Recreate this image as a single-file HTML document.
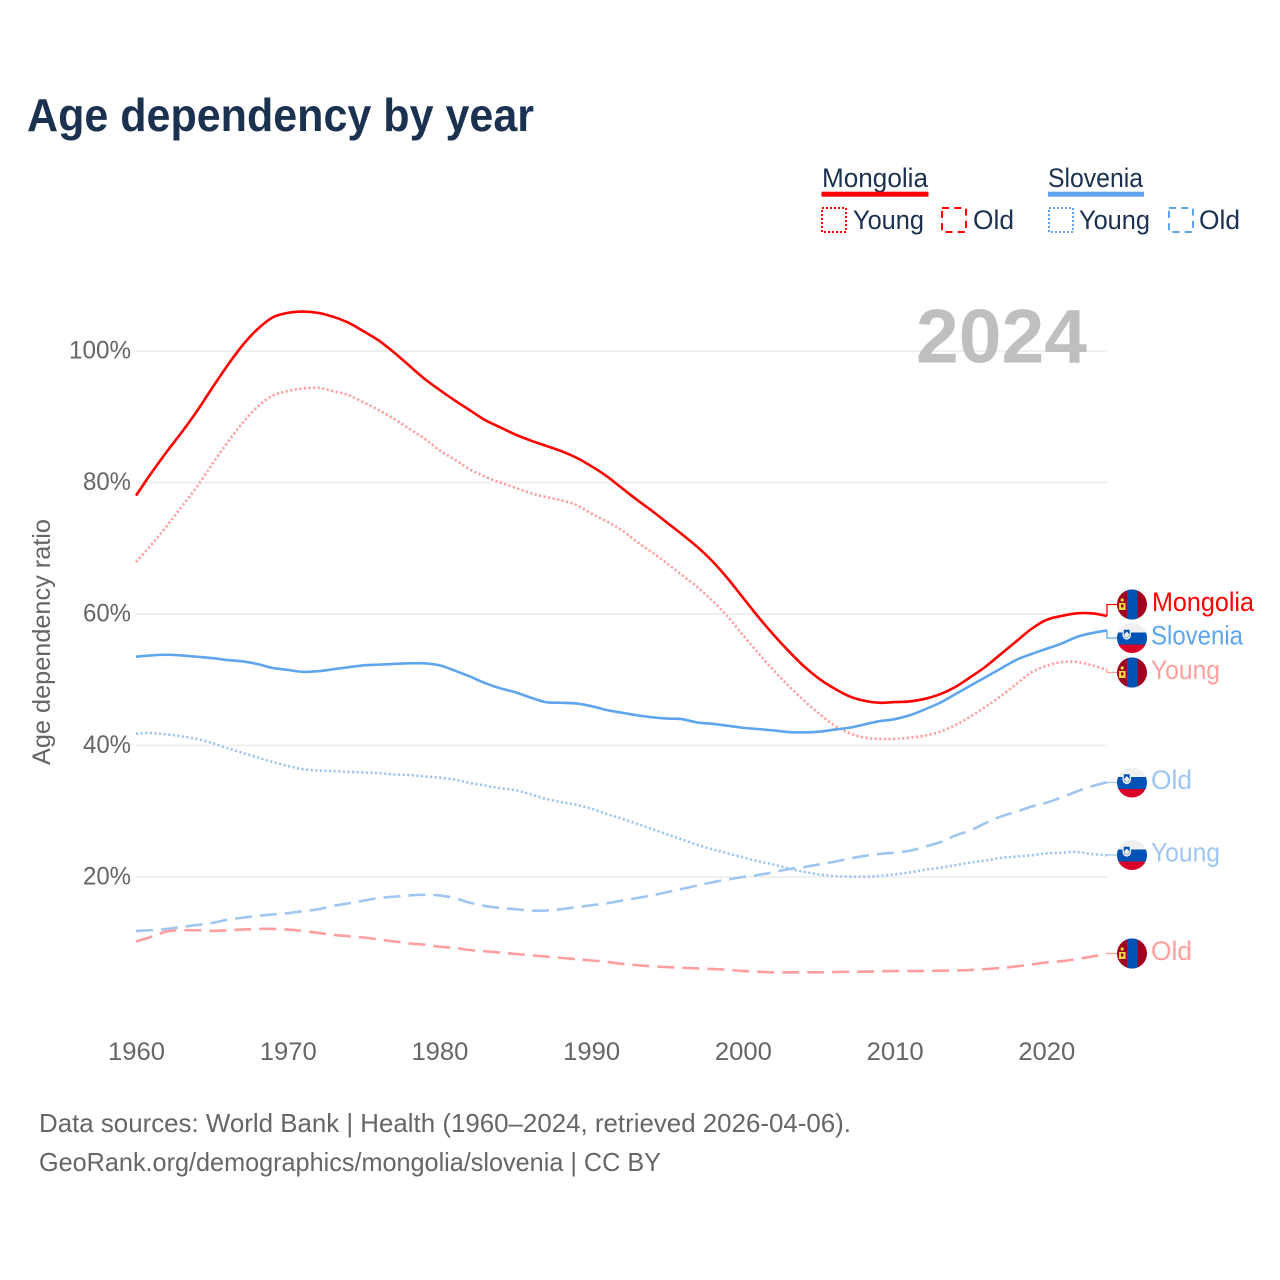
<!DOCTYPE html>
<html lang="en">
<head>
<meta charset="utf-8">
<title>Age dependency by year</title>
<style>
  html, body { margin: 0; padding: 0; background: #fff; }
  svg { display: block; font-family: "Liberation Sans", sans-serif; }
</style>
</head>
<body>
<svg id="chart" xmlns="http://www.w3.org/2000/svg" width="1280" height="1280" viewBox="0 0 1280 1280">
  <rect width="1280" height="1280" fill="#fff"/>
  <defs><clipPath id="flag-clip"><circle cx="0" cy="0" r="15"/></clipPath></defs>

  <text x="27" y="131" font-size="46" font-weight="700" fill="#1a3150" textLength="507" lengthAdjust="spacingAndGlyphs">Age dependency by year</text>

  <g>
    <text x="822" y="187" font-size="27" fill="#1a3150" textLength="106" lengthAdjust="spacingAndGlyphs">Mongolia</text>
    <rect x="821.5" y="191.7" width="107" height="5" fill="#ff0000"/>
    <rect x="822" y="208" width="24" height="24" fill="none" stroke="#ff0000" stroke-width="2" stroke-dasharray="2 2"/>
    <text x="853" y="229" font-size="27" fill="#1a3150" textLength="71" lengthAdjust="spacingAndGlyphs">Young</text>
    <rect x="942" y="208" width="24" height="24" fill="none" stroke="#ff0000" stroke-width="2" stroke-dasharray="7 5.3"/>
    <text x="973" y="229" font-size="27" fill="#1a3150" textLength="41" lengthAdjust="spacingAndGlyphs">Old</text>

    <text x="1048" y="187" font-size="27" fill="#1a3150" textLength="95" lengthAdjust="spacingAndGlyphs">Slovenia</text>
    <rect x="1048" y="191.7" width="96" height="5" fill="#5fa5ee"/>
    <rect x="1049" y="208" width="24" height="24" fill="none" stroke="#5fa5ee" stroke-width="2" stroke-dasharray="2 2"/>
    <text x="1079" y="229" font-size="27" fill="#1a3150" textLength="71" lengthAdjust="spacingAndGlyphs">Young</text>
    <rect x="1169" y="208" width="24" height="24" fill="none" stroke="#5fa5ee" stroke-width="2" stroke-dasharray="7 5.3"/>
    <text x="1199" y="229" font-size="27" fill="#1a3150" textLength="41" lengthAdjust="spacingAndGlyphs">Old</text>
  </g>

  <g id="grid-layer"></g>
  <text x="916" y="362.5" font-size="76" font-weight="700" fill="#bfbfbf" textLength="171" lengthAdjust="spacingAndGlyphs">2024</text>
  <g id="axis-layer"></g>
  <text transform="translate(50,642) rotate(-90)" text-anchor="middle" font-size="25" fill="#666" textLength="246" lengthAdjust="spacingAndGlyphs">Age dependency ratio</text>
  <g id="series-layer"></g>
  <g id="label-layer"></g>

  <text x="39" y="1132" font-size="26" fill="#666" textLength="812" lengthAdjust="spacingAndGlyphs">Data sources: World Bank | Health (1960–2024, retrieved 2026-04-06).</text>
  <text x="39" y="1171" font-size="26" fill="#666" textLength="622" lengthAdjust="spacingAndGlyphs">GeoRank.org/demographics/mongolia/slovenia | CC BY</text>
</svg>

<script>
const years = [1960,1961,1962,1963,1964,1965,1966,1967,1968,1969,1970,1971,1972,1973,1974,1975,1976,1977,1978,1979,1980,1981,1982,1983,1984,1985,1986,1987,1988,1989,1990,1991,1992,1993,1994,1995,1996,1997,1998,1999,2000,2001,2002,2003,2004,2005,2006,2007,2008,2009,2010,2011,2012,2013,2014,2015,2016,2017,2018,2019,2020,2021,2022,2023,2024];
const xTicks = [1960,1970,1980,1990,2000,2010,2020];
const yTicks = [20,40,60,80,100];

const mongoliaTotal = [78.0,81.4,84.6,87.6,90.8,94.3,97.7,100.8,103.3,105.1,105.8,106.0,105.8,105.2,104.3,103.0,101.6,99.8,97.8,95.8,94.1,92.5,91.0,89.5,88.4,87.3,86.4,85.6,84.8,83.8,82.5,81.0,79.2,77.4,75.7,73.9,72.1,70.2,68.0,65.4,62.5,59.6,56.9,54.4,52.1,50.2,48.7,47.5,46.8,46.5,46.6,46.7,47.1,47.8,48.9,50.4,52.0,53.9,55.8,57.7,59.1,59.7,60.1,60.1,59.7];
const mongoliaYoung = [67.9,70.5,73.3,76.3,79.3,82.7,86.0,89.0,91.5,93.2,93.9,94.3,94.4,93.9,93.3,92.2,91.0,89.7,88.2,86.7,84.9,83.5,82.0,80.9,80.0,79.2,78.4,77.8,77.3,76.6,75.3,74.1,72.8,71.0,69.4,67.7,65.9,64.1,62.0,59.6,56.8,54.1,51.5,49.1,46.9,44.9,43.1,41.9,41.2,41.0,41.0,41.2,41.5,42.1,43.1,44.4,45.9,47.5,49.3,51.1,52.1,52.7,52.7,52.2,51.5];
const mongoliaOld = [10.2,10.9,11.7,11.9,11.9,11.8,11.9,12.0,12.1,12.1,12.0,11.8,11.5,11.2,11.0,10.8,10.5,10.2,9.9,9.7,9.4,9.2,8.9,8.7,8.5,8.3,8.1,7.9,7.7,7.5,7.3,7.1,6.8,6.6,6.4,6.3,6.2,6.1,6.0,5.9,5.7,5.6,5.5,5.5,5.5,5.5,5.55,5.6,5.6,5.65,5.7,5.7,5.7,5.75,5.8,5.85,6.0,6.15,6.4,6.7,7.0,7.2,7.5,7.9,8.3];
const sloveniaTotal = [53.5,53.7,53.8,53.7,53.5,53.3,53.0,52.8,52.4,51.8,51.5,51.2,51.3,51.6,51.9,52.2,52.3,52.4,52.5,52.5,52.2,51.4,50.5,49.5,48.7,48.1,47.3,46.6,46.5,46.4,46.0,45.4,45.0,44.6,44.3,44.1,44.0,43.5,43.3,43.0,42.7,42.5,42.3,42.05,42.0,42.1,42.4,42.7,43.2,43.7,44.0,44.6,45.5,46.5,47.8,49.1,50.4,51.7,53.0,53.9,54.7,55.5,56.5,57.1,57.5];
const sloveniaYoung = [41.8,41.9,41.7,41.4,41.0,40.4,39.6,38.9,38.2,37.5,36.9,36.4,36.2,36.1,36.0,35.9,35.8,35.6,35.5,35.3,35.1,34.8,34.3,33.9,33.5,33.2,32.6,31.9,31.4,31.0,30.4,29.6,28.9,28.1,27.3,26.5,25.7,24.9,24.2,23.6,23.0,22.4,21.9,21.3,20.8,20.4,20.15,20.05,20.05,20.15,20.4,20.7,21.1,21.4,21.8,22.2,22.5,22.9,23.1,23.3,23.6,23.7,23.8,23.5,23.3];
const sloveniaOld = [11.8,11.9,12.1,12.4,12.7,13.0,13.5,13.8,14.1,14.3,14.5,14.8,15.1,15.6,16.0,16.4,16.8,17.0,17.2,17.3,17.2,16.8,16.1,15.6,15.3,15.1,14.9,14.9,15.1,15.4,15.7,16.0,16.4,16.8,17.2,17.7,18.2,18.7,19.2,19.6,20.0,20.3,20.7,21.2,21.5,21.9,22.3,22.8,23.2,23.5,23.7,24.0,24.6,25.3,26.3,27.1,28.2,29.2,29.9,30.7,31.3,32.1,33.0,33.8,34.4];

const NS = 'http://www.w3.org/2000/svg';
const xScale = function (yr) { return 136 + (yr - 1960) * (971 / 64); };
const yScale = function (v) { return 1008.5 - v * 6.575; };

function make(parent, tag, attrs, content) {
  const el = document.createElementNS(NS, tag);
  for (const k in attrs) el.setAttribute(k, attrs[k]);
  if (content !== undefined) el.textContent = content;
  parent.appendChild(el);
  return el;
}

function smoothPath(values) {
  const pts = values.map(function (v, i) { return [xScale(years[i]), yScale(v)]; });
  let d = 'M' + pts[0][0].toFixed(2) + ' ' + pts[0][1].toFixed(2);
  for (let i = 0; i < pts.length - 1; i++) {
    const p0 = pts[Math.max(i - 1, 0)];
    const p1 = pts[i];
    const p2 = pts[i + 1];
    const p3 = pts[Math.min(i + 2, pts.length - 1)];
    const c1x = p1[0] + (p2[0] - p0[0]) / 6;
    const c1y = p1[1] + (p2[1] - p0[1]) / 6;
    const c2x = p2[0] - (p3[0] - p1[0]) / 6;
    const c2y = p2[1] - (p3[1] - p1[1]) / 6;
    d += ' C' + c1x.toFixed(2) + ' ' + c1y.toFixed(2) + ' ' + c2x.toFixed(2) + ' ' + c2y.toFixed(2) + ' ' + p2[0].toFixed(2) + ' ' + p2[1].toFixed(2);
  }
  return d;
}

const gridLayer = document.getElementById('grid-layer');
const axisLayer = document.getElementById('axis-layer');
const seriesLayer = document.getElementById('series-layer');
const labelLayer = document.getElementById('label-layer');

yTicks.forEach(function (t) {
  const line = make(gridLayer, 'line', { x1: 136, x2: 1107, y1: yScale(t), y2: yScale(t), stroke: '#ececec', 'stroke-width': 1.5 });
  
  
  const label = make(axisLayer, 'text', { x: 131, y: yScale(t) + 7.5, 'text-anchor': 'end', 'font-size': 25, fill: '#666', textLength: t === 100 ? 62 : 48, lengthAdjust: 'spacingAndGlyphs' }, t + '%');
  
  
});

xTicks.forEach(function (t) {
  const label = make(axisLayer, 'text', { x: xScale(t) + 0.5, y: 1060, 'text-anchor': 'middle', 'font-size': 25, fill: '#666', textLength: 57, lengthAdjust: 'spacingAndGlyphs' }, String(t));
  
  
});

const seriesList = [
  { id: 'slovenia-old', values: sloveniaOld, color: '#9fc6f1', dash: '17 8', flag: 'si', label: 'Old', labelY: 782.5, width: 41 },
  { id: 'slovenia-young', values: sloveniaYoung, color: '#9fc6f1', dash: '2.2 2.4', flag: 'si', label: 'Young', labelY: 855, width: 69 },
  { id: 'mongolia-old', values: mongoliaOld, color: '#ff9f9f', dash: '17 8', flag: 'mn', label: 'Old', labelY: 953.5, width: 41 },
  { id: 'mongolia-young', values: mongoliaYoung, color: '#ff9f9f', dash: '2.2 2.4', flag: 'mn', label: 'Young', labelY: 672.5, width: 69 },
  { id: 'slovenia-total', values: sloveniaTotal, color: '#5fa5ee', dash: '', flag: 'si', label: 'Slovenia', labelY: 638, width: 92 },
  { id: 'mongolia-total', values: mongoliaTotal, color: '#ff0000', dash: '', flag: 'mn', label: 'Mongolia', labelY: 604.5, width: 102 }
];

function drawFlag(group, kind) {
  const clip = make(group, 'g', { 'clip-path': 'url(#flag-clip)' });
  if (kind === 'mn') {
    make(clip, 'rect', { x: -15, y: -15, width: 30, height: 30, fill: '#a2001d' });
    make(clip, 'rect', { x: -5, y: -15, width: 10.5, height: 30, fill: '#0052b4' });
    make(clip, 'rect', { x: -13, y: -1.5, width: 6.5, height: 7, fill: '#ffda44' });
    make(clip, 'rect', { x: -11, y: 0, width: 2.5, height: 3, fill: '#a2001d' });
    make(clip, 'circle', { cx: -9.8, cy: -4.5, r: 1.6, fill: '#ffda44' });
  } else {
    make(clip, 'rect', { x: -15, y: -15, width: 30, height: 30, fill: '#f0f0f0' });
    make(clip, 'rect', { x: -15, y: -5.5, width: 30, height: 12, fill: '#0052b4' });
    make(clip, 'rect', { x: -15, y: 6.5, width: 30, height: 9, fill: '#d80027' });
    make(clip, 'path', { d: 'M-9.5 -9.5 H-1 V-3 Q-1 0.8 -5.2 1.8 Q-9.5 0.8 -9.5 -3 Z', fill: '#f0f0f0' });
    make(clip, 'path', { d: 'M-8.2 -8.2 H-2.3 V-3.5 Q-2.3 -1 -5.2 0 Q-8.2 -1 -8.2 -3.5 Z', fill: '#0052b4' });
    make(clip, 'path', { d: 'M-8 -3.5 L-5.2 -6.5 L-2.5 -3.5 Q-3 -1.2 -5.2 -0.4 Q-7.5 -1.2 -8 -3.5 Z', fill: '#f0f0f0' });
  }
}

seriesList.forEach(function (s) {
  const line = make(seriesLayer, 'path', { d: smoothPath(s.values), fill: 'none', stroke: s.color, 'stroke-width': 2.6, 'stroke-linejoin': 'round' });
  if (s.dash) line.setAttribute('stroke-dasharray', s.dash);
  
  

  const endX = xScale(years[years.length - 1]);
  const endY = yScale(s.values[s.values.length - 1]);
  const connector = make(labelLayer, 'path', { d: 'M' + endX + ' ' + endY + ' V' + s.labelY + ' H1118', fill: 'none', stroke: s.color, 'stroke-width': 1.3 });
  
  

  const flag = make(labelLayer, 'g', { transform: 'translate(1132,' + s.labelY + ')' });
  
  
  drawFlag(flag, s.flag);

  const text = make(labelLayer, 'text', { x: s.label === 'Mongolia' ? 1152 : 1151, y: s.labelY + 6.5, 'font-size': 27, fill: s.color, textLength: s.width, lengthAdjust: 'spacingAndGlyphs' }, s.label);
  
  
});
</script>
</body>
</html>
